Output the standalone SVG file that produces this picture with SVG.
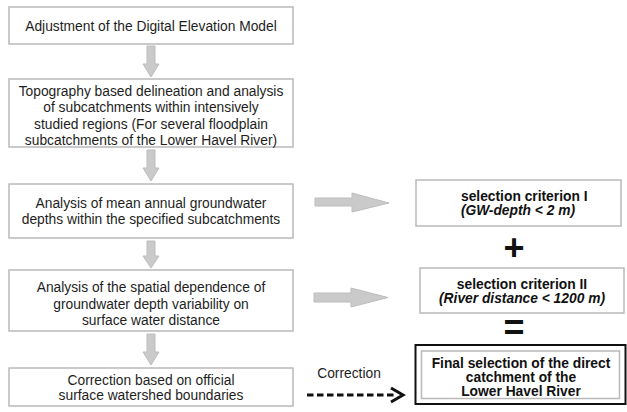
<svg xmlns="http://www.w3.org/2000/svg" width="627" height="412" viewBox="0 0 627 412">
<defs>
<style>
.box{fill:#fff;stroke:#b9b9b9;stroke-width:1.5}
.t{font-family:"Liberation Sans",Arial,sans-serif;font-size:13.8px;fill:#1e1e1e;text-anchor:middle}
.b{font-family:"Liberation Sans",Arial,sans-serif;font-size:13.8px;font-weight:bold;fill:#111;text-anchor:middle}
.s{text-anchor:start}
.bi{font-style:italic}
.ga{fill:#cacaca;stroke:#bdbdbd;stroke-width:1}
.sym{font-family:"Liberation Sans",Arial,sans-serif;font-weight:bold;font-size:36px;fill:#111;text-anchor:middle}
</style>
</defs>
<rect width="627" height="412" fill="#fff"/>
<g id="connectors">
<path class="ga" d="M147,46 H155 V64 H159 L151,77 L143,64 H147 Z"/>
<path class="ga" d="M147,150 H155 V168 H159 L151,181 L143,168 H147 Z"/>
<path class="ga" d="M147,241 H155 V256 H159 L151,268 L143,256 H147 Z"/>
<path class="ga" d="M147,334 H155 V352 H159 L151,365 L143,352 H147 Z"/>
<path class="ga" d="M315,198 H352 V193 L389,203 L352,212 V206 H315 Z"/>
<path class="ga" d="M314,293 H351 V288 L388,297.5 L351,307 V302 H314 Z"/>
<line x1="307" y1="395" x2="394" y2="395" stroke="#111" stroke-width="2.8" stroke-dasharray="6.5,3.5"/>
<polyline points="391,388 403,395 391,402" fill="none" stroke="#111" stroke-width="3"/>
<text class="t" x="349" y="378">Correction</text>
</g>
<g id="n1">
<rect class="box" x="9" y="7" width="284" height="37"/>
<text class="t" x="151" y="30.5">Adjustment of the Digital Elevation Model</text>
</g>
<g id="n2">
<rect class="box" x="9" y="79" width="284" height="68"/>
<text class="t" x="151" y="96">Topography based delineation and analysis</text>
<text class="t" x="151" y="112">of subcatchments within intensively</text>
<text class="t" x="151" y="128.5">studied regions (For several floodplain</text>
<text class="t" x="151" y="145">subcatchments of the Lower Havel River)</text>
</g>
<g id="n3">
<rect class="box" x="9" y="184" width="284" height="54"/>
<text class="t" x="151" y="208">Analysis of mean annual groundwater</text>
<text class="t" x="151" y="224">depths within the specified subcatchments</text>
</g>
<g id="n4">
<rect class="box" x="9" y="270" width="284" height="61"/>
<text class="t" x="151" y="292">Analysis of the spatial dependence of</text>
<text class="t" x="151" y="309">groundwater depth variability on</text>
<text class="t" x="151" y="325">surface water distance</text>
</g>
<g id="n5">
<rect class="box" x="9" y="368" width="284" height="38"/>
<text class="t" x="151" y="384.5">Correction based on official</text>
<text class="t" x="151" y="400">surface watershed boundaries</text>
</g>
<g id="c1">
<rect class="box" x="416" y="180" width="205" height="46"/>
<text class="b s" x="461" y="200.5">selection criterion I</text>
<text class="b bi s" x="461" y="214.5">(GW-depth &lt; 2 m)</text>
</g>
<g id="plus">
<text class="sym" x="514" y="260">+</text>
</g>
<g id="c2">
<rect class="box" x="420" y="268" width="204" height="45"/>
<text class="b" x="522" y="289">selection criterion II</text>
<text class="b bi" x="522" y="303">(River distance &lt; 1200 m)</text>
</g>
<g id="eq">
<text class="sym" x="514" y="340">=</text>
</g>
<g id="final">
<rect x="415.5" y="345" width="210" height="59" fill="#fff" stroke="#111" stroke-width="2"/>
<rect x="421.5" y="351" width="198" height="47.5" fill="none" stroke="#b9b9b9" stroke-width="1.5"/>
<text class="b" x="521" y="368">Final selection of the direct</text>
<text class="b" x="521" y="382">catchment of the</text>
<text class="b" x="521" y="396">Lower Havel River</text>
</g>
</svg>
